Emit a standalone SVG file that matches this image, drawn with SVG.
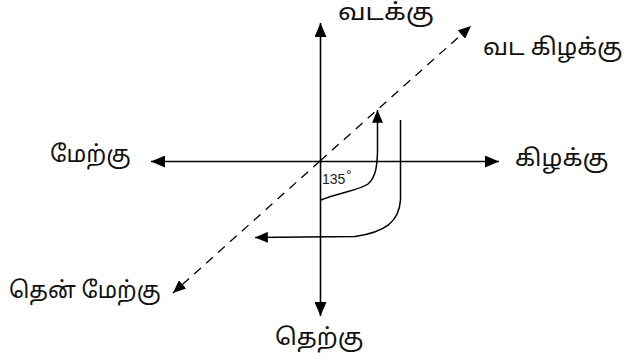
<svg xmlns="http://www.w3.org/2000/svg" width="624" height="362" viewBox="0 0 624 362">
<style>
.ax{stroke:#000;stroke-width:1.6;fill:none}
.dash{stroke:#000;stroke-width:1.3;fill:none;stroke-dasharray:9,7}
.cur{stroke:#000;stroke-width:1.5;fill:none}
.lbl{font-family:"Noto Sans Tamil","Latha","Lohit Tamil","Noto Sans",sans-serif;font-size:23px;fill:#111}
.deg{font-family:"Liberation Sans",sans-serif;font-size:14px;fill:#222}
</style>
<defs>
<marker id="ah" viewBox="0 0 14 12" refX="14" refY="6" markerWidth="14" markerHeight="12" markerUnits="userSpaceOnUse" orient="auto">
<path d="M0,0 L14,6 L0,12 Z" fill="#000"/>
</marker>
<marker id="ahs" viewBox="0 0 14 12" refX="14" refY="6" markerWidth="13" markerHeight="11" markerUnits="userSpaceOnUse" orient="auto">
<path d="M0,0 L14,6 L0,12 Z" fill="#000"/>
</marker>
</defs>
<g id="connectors">
<line class="ax" x1="320.5" y1="161" x2="320.5" y2="23" marker-end="url(#ah)"/>
<line class="ax" x1="320.5" y1="161" x2="320.5" y2="316" marker-end="url(#ah)"/>
<line class="ax" x1="320.5" y1="161.5" x2="151" y2="161.5" marker-end="url(#ah)"/>
<line class="ax" x1="320.5" y1="161.5" x2="499" y2="161.5" marker-end="url(#ah)"/>
<line class="dash" x1="320" y1="161" x2="471" y2="26" marker-end="url(#ahs)"/>
<line class="dash" x1="320" y1="161" x2="173" y2="293" marker-end="url(#ahs)"/>
<path class="cur" d="M321,200 C338,193 360,190 368,184 C376,177 377,166 377.5,152 L377.5,110" marker-end="url(#ahs)"/>
<path class="cur" d="M400.5,120 L400.5,200 C399,222 385,232 355,236.5 L255,237.5" marker-end="url(#ahs)"/>
</g>
<g id="angle"><text class="deg" x="322" y="184">135</text><text class="deg" x="346" y="180" font-size="17">°</text></g>
<g id="north"><text class="lbl" transform="translate(338,20) scale(1.15,1)">வடக்கு</text></g>
<g id="northeast"><text class="lbl" transform="translate(483,55) scale(1.04,1)">வட கிழக்கு</text></g>
<g id="west"><text class="lbl" x="50" y="162">மேற்கு</text></g>
<g id="east"><text class="lbl" transform="translate(515,166) scale(1.06,1)">கிழக்கு</text></g>
<g id="southwest"><text class="lbl" transform="translate(9,298) scale(0.98,1)">தென் மேற்கு</text></g>
<g id="south"><text class="lbl" transform="translate(275,345) scale(1.05,1)">தெற்கு</text></g>
</svg>
